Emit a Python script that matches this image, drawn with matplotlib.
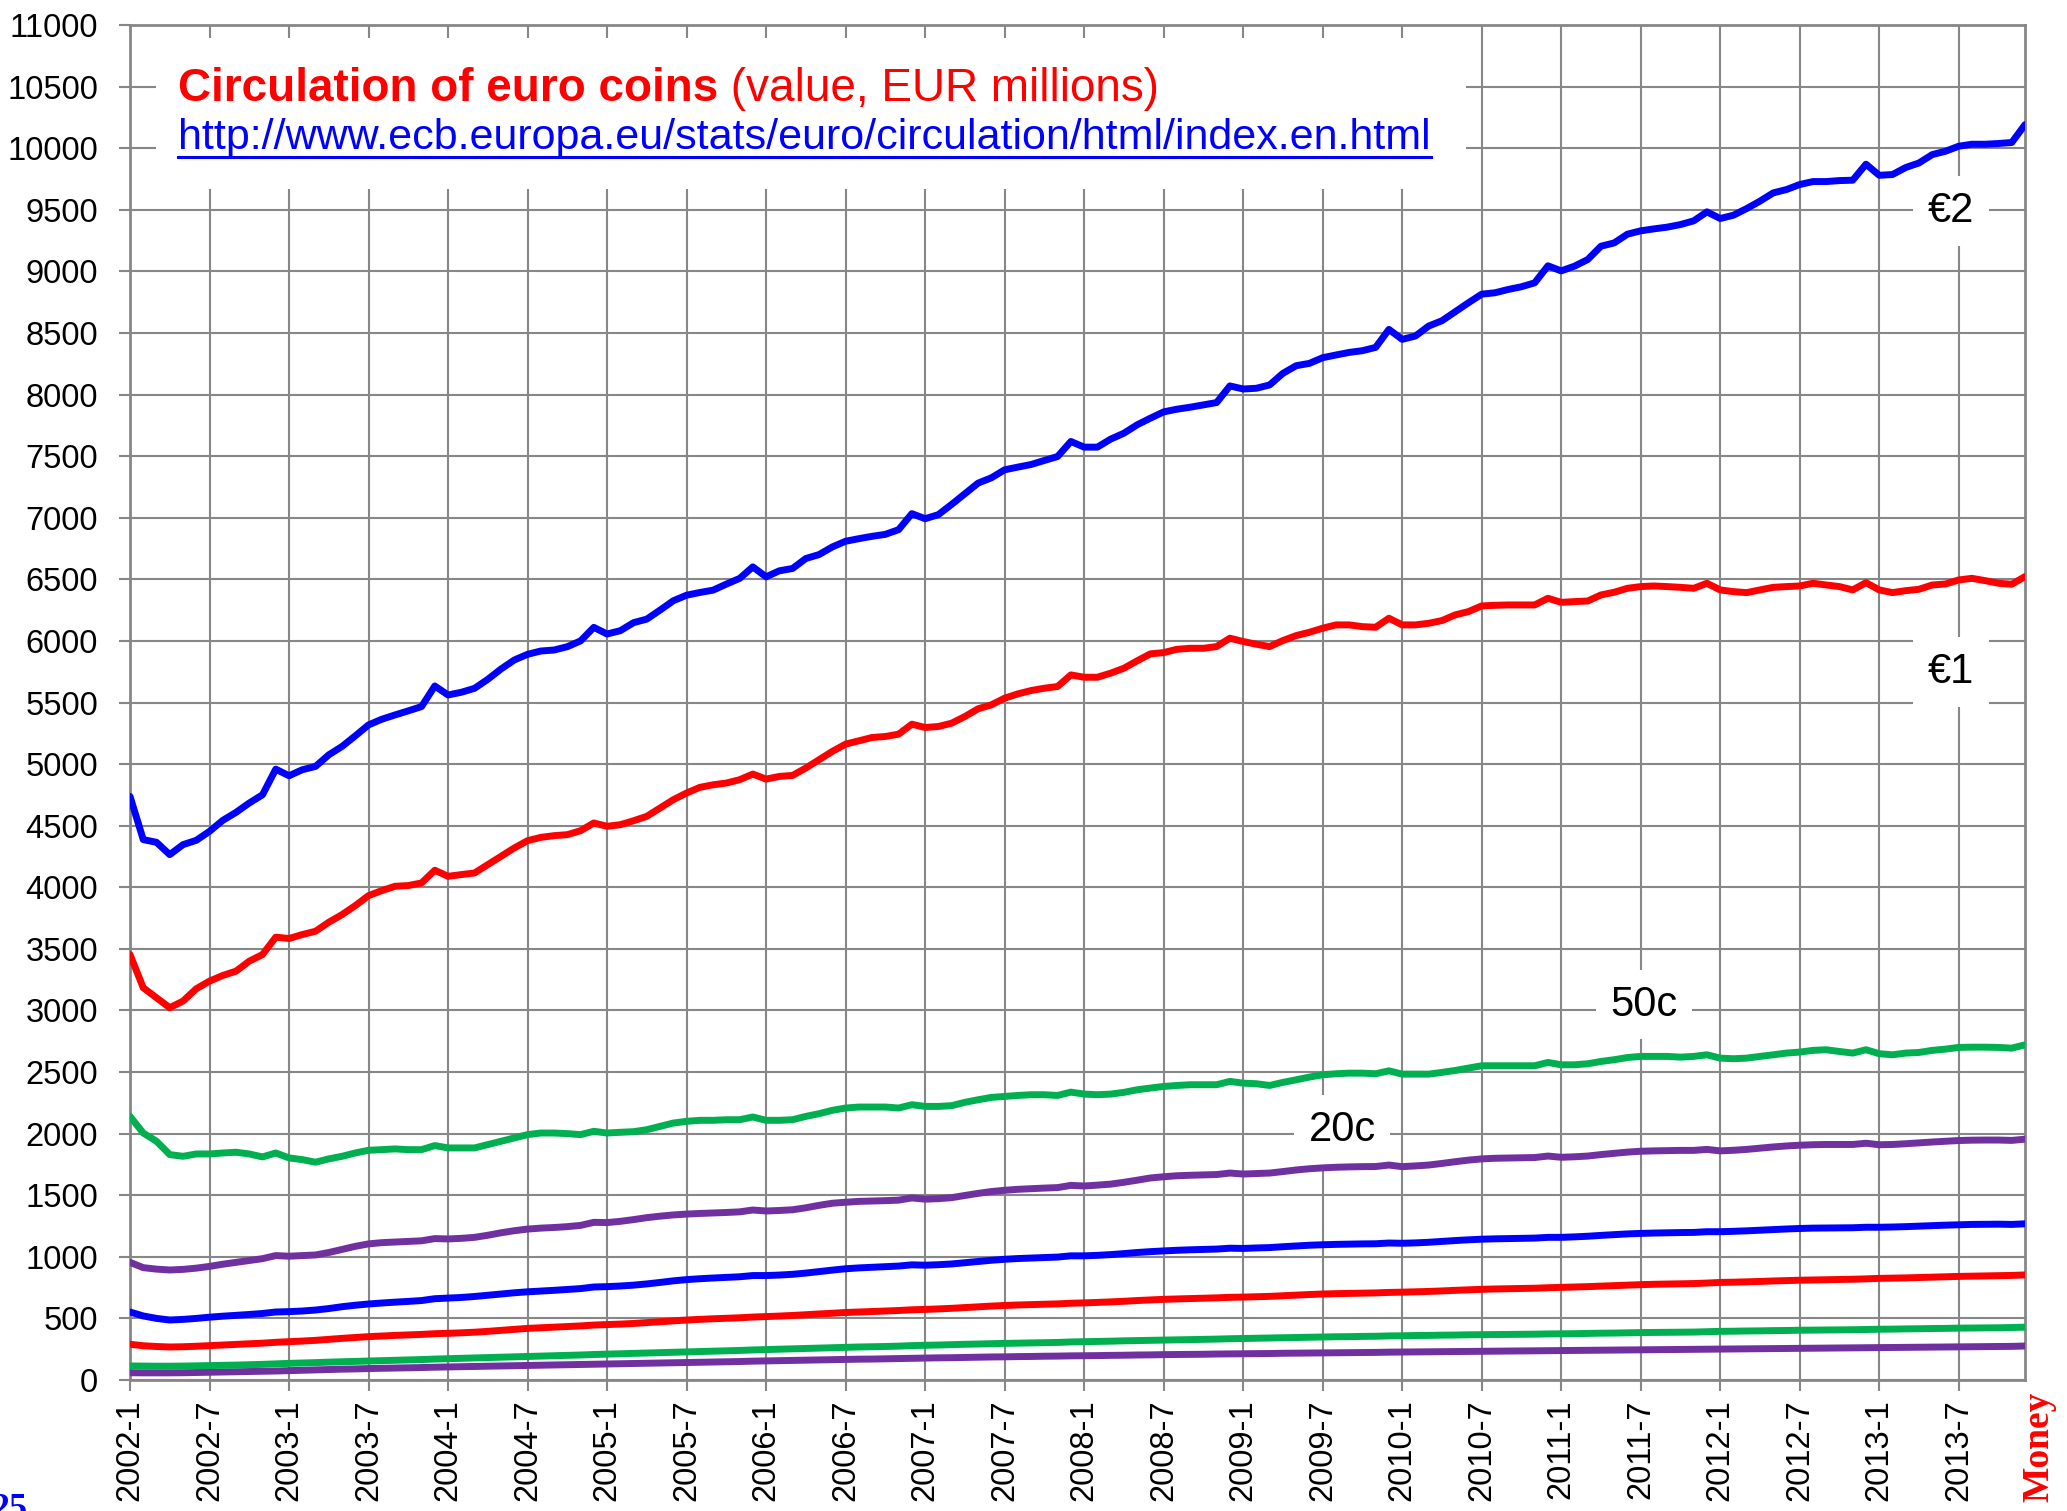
import numpy as np
import matplotlib
matplotlib.use('Agg')
import matplotlib.pyplot as plt
from matplotlib.patches import Rectangle
from matplotlib.lines import Line2D

plt.rcParams['font.family'] = ['Liberation Sans', 'DejaVu Sans']

# monthly categories 2002-1 .. 2013-12
years = list(range(2002, 2014))
months = [f'{y}-{m}' for y in years for m in range(1, 13)]

# value in circulation, EUR millions
coin_2eur = [
    4738, 4387, 4365, 4265, 4346, 4381, 4454, 4543, 4608, 4684, 4751, 4959,
    4905, 4954, 4981, 5075, 5143, 5229, 5318, 5364, 5399, 5432, 5467, 5634,
    5561, 5583, 5615, 5688, 5772, 5845, 5891, 5918, 5926, 5953, 6000, 6110,
    6056, 6083, 6148, 6177, 6250, 6326, 6371, 6393, 6412, 6461, 6507, 6601,
    6520, 6569, 6588, 6669, 6701, 6763, 6809, 6830, 6849, 6865, 6903, 7033,
    6992, 7025, 7108, 7195, 7281, 7324, 7389, 7411, 7432, 7465, 7497, 7619,
    7573, 7573, 7638, 7686, 7754, 7808, 7859, 7881, 7897, 7916, 7935, 8070,
    8045, 8051, 8078, 8172, 8234, 8253, 8299, 8321, 8342, 8356, 8383, 8529,
    8448, 8475, 8556, 8599, 8672, 8745, 8815, 8826, 8853, 8875, 8907, 9045,
    9004, 9042, 9096, 9204, 9231, 9302, 9329, 9345, 9359, 9380, 9410, 9483,
    9429, 9456, 9510, 9570, 9637, 9664, 9705, 9729, 9729, 9737, 9740, 9870,
    9780, 9786, 9843, 9880, 9948, 9975, 10016, 10032, 10032, 10038, 10046, 10191]

coin_1eur = [
    3454, 3184, 3103, 3022, 3076, 3176, 3238, 3284, 3319, 3400, 3454, 3595,
    3584, 3616, 3643, 3716, 3778, 3851, 3932, 3973, 4008, 4014, 4035, 4138,
    4089, 4103, 4116, 4184, 4251, 4319, 4378, 4405, 4419, 4427, 4459, 4522,
    4495, 4508, 4540, 4576, 4643, 4711, 4765, 4811, 4832, 4846, 4873, 4919,
    4878, 4900, 4908, 4968, 5035, 5103, 5162, 5189, 5216, 5224, 5243, 5324,
    5297, 5305, 5332, 5386, 5449, 5481, 5535, 5570, 5597, 5616, 5630, 5724,
    5705, 5705, 5738, 5778, 5838, 5895, 5905, 5932, 5940, 5940, 5954, 6022,
    5995, 5973, 5954, 6003, 6043, 6070, 6103, 6130, 6130, 6116, 6111, 6184,
    6130, 6130, 6143, 6165, 6211, 6238, 6284, 6289, 6292, 6292, 6292, 6346,
    6313, 6319, 6324, 6373, 6395, 6427, 6441, 6446, 6441, 6435, 6427, 6468,
    6414, 6400, 6392, 6414, 6435, 6441, 6446, 6468, 6454, 6441, 6414, 6473,
    6414, 6392, 6408, 6419, 6454, 6462, 6495, 6508, 6489, 6468, 6460, 6522]

coin_50c = [
    2140, 2005, 1938, 1830, 1816, 1835, 1835, 1843, 1849, 1835, 1811, 1843,
    1803, 1789, 1768, 1795, 1816, 1843, 1865, 1870, 1876, 1870, 1870, 1903,
    1884, 1884, 1884, 1911, 1938, 1965, 1992, 2005, 2005, 2000, 1992, 2019,
    2005, 2011, 2016, 2032, 2059, 2086, 2100, 2108, 2108, 2113, 2113, 2135,
    2108, 2108, 2113, 2140, 2162, 2189, 2208, 2216, 2216, 2216, 2208, 2235,
    2221, 2221, 2227, 2254, 2275, 2294, 2302, 2310, 2316, 2316, 2310, 2337,
    2321, 2316, 2321, 2335, 2356, 2370, 2383, 2391, 2397, 2397, 2397, 2424,
    2410, 2405, 2391, 2416, 2437, 2459, 2478, 2486, 2491, 2491, 2486, 2510,
    2483, 2483, 2483, 2497, 2513, 2532, 2551, 2551, 2551, 2551, 2551, 2578,
    2559, 2559, 2567, 2586, 2600, 2618, 2627, 2627, 2627, 2621, 2627, 2640,
    2613, 2608, 2613, 2627, 2640, 2654, 2662, 2676, 2681, 2667, 2654, 2681,
    2649, 2640, 2654, 2659, 2676, 2686, 2700, 2702, 2702, 2700, 2694, 2721]

coin_20c = [
    955, 912, 900, 893, 898, 908, 922, 940, 955, 970, 985, 1010,
    1005, 1010, 1015, 1035, 1060, 1085, 1105, 1115, 1120, 1125, 1130, 1148,
    1145, 1150, 1158, 1175, 1195, 1212, 1225, 1233, 1238, 1245, 1255, 1280,
    1278, 1288, 1302, 1318, 1330, 1340, 1347, 1352, 1356, 1360, 1365, 1380,
    1372, 1376, 1382, 1398, 1418, 1435, 1443, 1450, 1453, 1456, 1460, 1478,
    1468, 1472, 1480, 1498, 1515, 1530, 1540, 1548, 1553, 1558, 1562, 1580,
    1575, 1582, 1590, 1605, 1622, 1640, 1650, 1658, 1662, 1665, 1668, 1680,
    1672, 1676, 1680, 1692, 1705, 1715, 1722, 1727, 1730, 1732, 1733, 1745,
    1732, 1738, 1745, 1758, 1772, 1785, 1795, 1800, 1802, 1804, 1806, 1818,
    1808, 1812, 1818, 1830, 1840, 1850, 1857, 1860, 1862, 1864, 1864, 1872,
    1860, 1865, 1872, 1882, 1892, 1900, 1906, 1910, 1912, 1912, 1912, 1922,
    1910, 1912, 1918, 1925, 1932, 1938, 1944, 1947, 1948, 1948, 1945, 1955]

coin_10c = [
    552, 520, 500, 487, 492, 500, 510, 518, 525, 532, 540, 552,
    555, 560, 568, 580, 595, 607, 617, 625, 632, 638, 645, 660,
    665, 670, 678, 688, 698, 708, 716, 722, 728, 735, 742, 755,
    758, 763, 770, 780, 792, 805, 815, 822, 828, 833, 838, 848,
    848, 852, 858, 868, 880, 892, 903, 910, 915, 920, 925, 935,
    932, 936, 942, 952, 962, 972, 980, 986, 990, 994, 998, 1008,
    1008, 1012, 1018, 1026, 1035, 1042, 1048, 1053, 1057, 1060, 1063, 1070,
    1068, 1072, 1075, 1082, 1088, 1094, 1098, 1101, 1103, 1105, 1106, 1112,
    1110, 1113, 1118, 1125, 1132, 1138, 1143, 1146, 1148, 1150, 1152, 1158,
    1158, 1162, 1167, 1174, 1180, 1186, 1190, 1193, 1195, 1197, 1198, 1204,
    1204, 1207, 1211, 1216, 1221, 1226, 1230, 1233, 1234, 1235, 1236, 1240,
    1240, 1242, 1245, 1249, 1253, 1257, 1260, 1263, 1264, 1265, 1263, 1268]

coin_5c = [
    290, 278, 272, 268, 270, 274, 279, 284, 289, 294, 299, 306,
    311, 316, 322, 330, 338, 345, 352, 357, 362, 366, 370, 376,
    379, 383, 388, 395, 403, 411, 419, 424, 429, 434, 439, 446,
    450, 454, 459, 466, 473, 480, 487, 492, 497, 501, 505, 511,
    515, 519, 524, 530, 536, 542, 548, 552, 556, 560, 564, 570,
    573, 577, 582, 588, 594, 600, 605, 609, 612, 615, 618, 623,
    626, 630, 634, 639, 645, 650, 655, 658, 661, 664, 667, 671,
    673, 676, 679, 684, 689, 694, 698, 701, 703, 705, 707, 711,
    713, 716, 719, 723, 728, 732, 736, 739, 741, 743, 745, 749,
    752, 755, 758, 762, 766, 770, 774, 777, 779, 781, 783, 787,
    792, 794, 797, 800, 804, 807, 810, 812, 814, 816, 818, 821,
    825, 827, 829, 832, 835, 838, 841, 843, 845, 847, 849, 853]

coin_2c = [
    114, 113, 112, 112, 113, 115, 117, 119, 121, 124, 127, 131,
    135, 138, 141, 145, 148, 151, 154, 157, 160, 163, 166, 170,
    173, 176, 179, 182, 185, 188, 191, 194, 197, 200, 203, 207,
    210, 213, 216, 219, 222, 225, 228, 231, 234, 237, 240, 244,
    247, 250, 253, 256, 259, 262, 265, 268, 270, 272, 275, 279,
    282, 284, 287, 290, 292, 295, 297, 299, 301, 303, 305, 309,
    311, 313, 315, 318, 320, 322, 324, 326, 328, 330, 332, 335,
    337, 339, 341, 343, 345, 347, 349, 351, 352, 354, 355, 358,
    359, 361, 362, 364, 365, 367, 368, 369, 370, 371, 372, 374,
    375, 376, 378, 380, 381, 383, 385, 386, 387, 388, 389, 392,
    395, 396, 398, 399, 401, 402, 404, 405, 406, 407, 408, 410,
    412, 413, 415, 416, 418, 419, 421, 422, 423, 424, 426, 429]

coin_1c = [
    59, 58, 58, 58, 59, 61, 63, 65, 67, 69, 71, 73,
    76, 79, 82, 85, 88, 90, 93, 95, 97, 99, 101, 104,
    106, 108, 110, 112, 114, 116, 118, 120, 122, 124, 126, 128,
    130, 132, 134, 136, 138, 140, 142, 144, 146, 148, 150, 153,
    155, 157, 159, 161, 163, 165, 167, 169, 170, 172, 174, 176,
    178, 180, 181, 183, 185, 187, 188, 190, 191, 193, 194, 196,
    197, 198, 200, 201, 203, 204, 206, 207, 208, 209, 211, 212,
    213, 214, 215, 217, 218, 219, 220, 221, 222, 223, 224, 226,
    227, 228, 229, 230, 231, 232, 233, 234, 235, 236, 237, 238,
    239, 240, 241, 242, 243, 244, 245, 246, 247, 248, 249, 250,
    251, 252, 253, 254, 255, 256, 257, 258, 259, 260, 261, 262,
    263, 264, 265, 266, 267, 268, 269, 270, 271, 272, 273, 276]

BLUE, RED, GREEN, PURPLE = '#0000FF', '#FF0000', '#00B050', '#7030A0'
series = [(coin_1c, PURPLE), (coin_2c, GREEN), (coin_5c, RED), (coin_10c, BLUE),
          (coin_20c, PURPLE), (coin_50c, GREEN), (coin_1eur, RED), (coin_2eur, BLUE)]

W, H = 2067, 1511
fig = plt.figure(figsize=(W / 100, H / 100), dpi=100, facecolor='white')
L, R, T, B = 130, 2025, 25, 1380
ax = fig.add_axes([L / W, 1 - B / H, (R - L) / W, (B - T) / H])

x = np.arange(len(months))
for vals, col in series:
    ax.plot(x, vals, color=col, lw=5, solid_joinstyle='round',
            solid_capstyle='round', zorder=5)

ax.set_xlim(0, len(months) - 1)
ax.set_ylim(0, 11000)
ax.set_yticks(range(0, 11001, 500))
ax.set_xticks(x[::6])
ax.set_xticklabels(months[::6], rotation=90)

grid_col = '#878787'
ax.grid(True, color=grid_col, lw=1.5)
ax.set_axisbelow(True)
for s in ax.spines.values():
    s.set_color(grid_col)
    s.set_linewidth(2)
ax.tick_params(axis='both', colors=grid_col, width=1.5, length=8,
               labelcolor='black', labelsize=23.5)
ax.tick_params(axis='y', pad=15)
ax.tick_params(axis='x', pad=6)

# white panel behind the title
ax.add_patch(Rectangle((0.0137, 0.879), 0.6913, 0.1114, transform=ax.transAxes,
                       facecolor='white', edgecolor='none', zorder=2))

t1 = ax.text(0.0253, 0.9439, 'Circulation of euro coins', transform=ax.transAxes,
             fontsize=33, fontweight='bold', color=RED, va='baseline', zorder=3)
ax.annotate(' (value, EUR millions)', xy=(1, 0), xycoords=t1, va='bottom',
            fontsize=33, color=RED, zorder=3)
url = ax.text(0.0253, 0.9085,
              'http://www.ecb.europa.eu/stats/euro/circulation/html/index.en.html',
              transform=ax.transAxes, fontsize=31, color=BLUE, va='baseline', zorder=3)

fig.canvas.draw()
bb = url.get_window_extent(fig.canvas.get_renderer())
base = ax.transAxes.transform((0, 0.9085))[1]
inv = fig.transFigure.inverted()
(ux0, uy), (ux1, _) = inv.transform([(bb.x0, base - 8), (bb.x1, base - 8)])
fig.add_artist(Line2D([ux0, ux1], [uy, uy], transform=fig.transFigure,
                      color=BLUE, lw=2.2))

# series labels
for txt, xf, yf in [('€2', 0.961, 0.8627), ('€1', 0.961, 0.5225),
                    ('50c', 0.799, 0.277), ('20c', 0.6396, 0.1845)]:
    ax.text(xf, yf, txt, transform=ax.transAxes, ha='center', va='center',
            fontsize=30, color='black', zorder=3,
            bbox=dict(boxstyle='square,pad=0.35', facecolor='white', edgecolor='none'))

fig.text(-0.004, -0.0046, '25', color=BLUE, fontsize=26, fontweight='bold',
         family='Liberation Serif', ha='left', va='baseline')
fig.text(2039 / W, 1 - 1392 / H, 'Money', rotation=90, color=RED, fontsize=27,
         fontweight='bold', family='Liberation Serif', ha='center', va='top')

fig.savefig('out.png', dpi=100, facecolor='white')
